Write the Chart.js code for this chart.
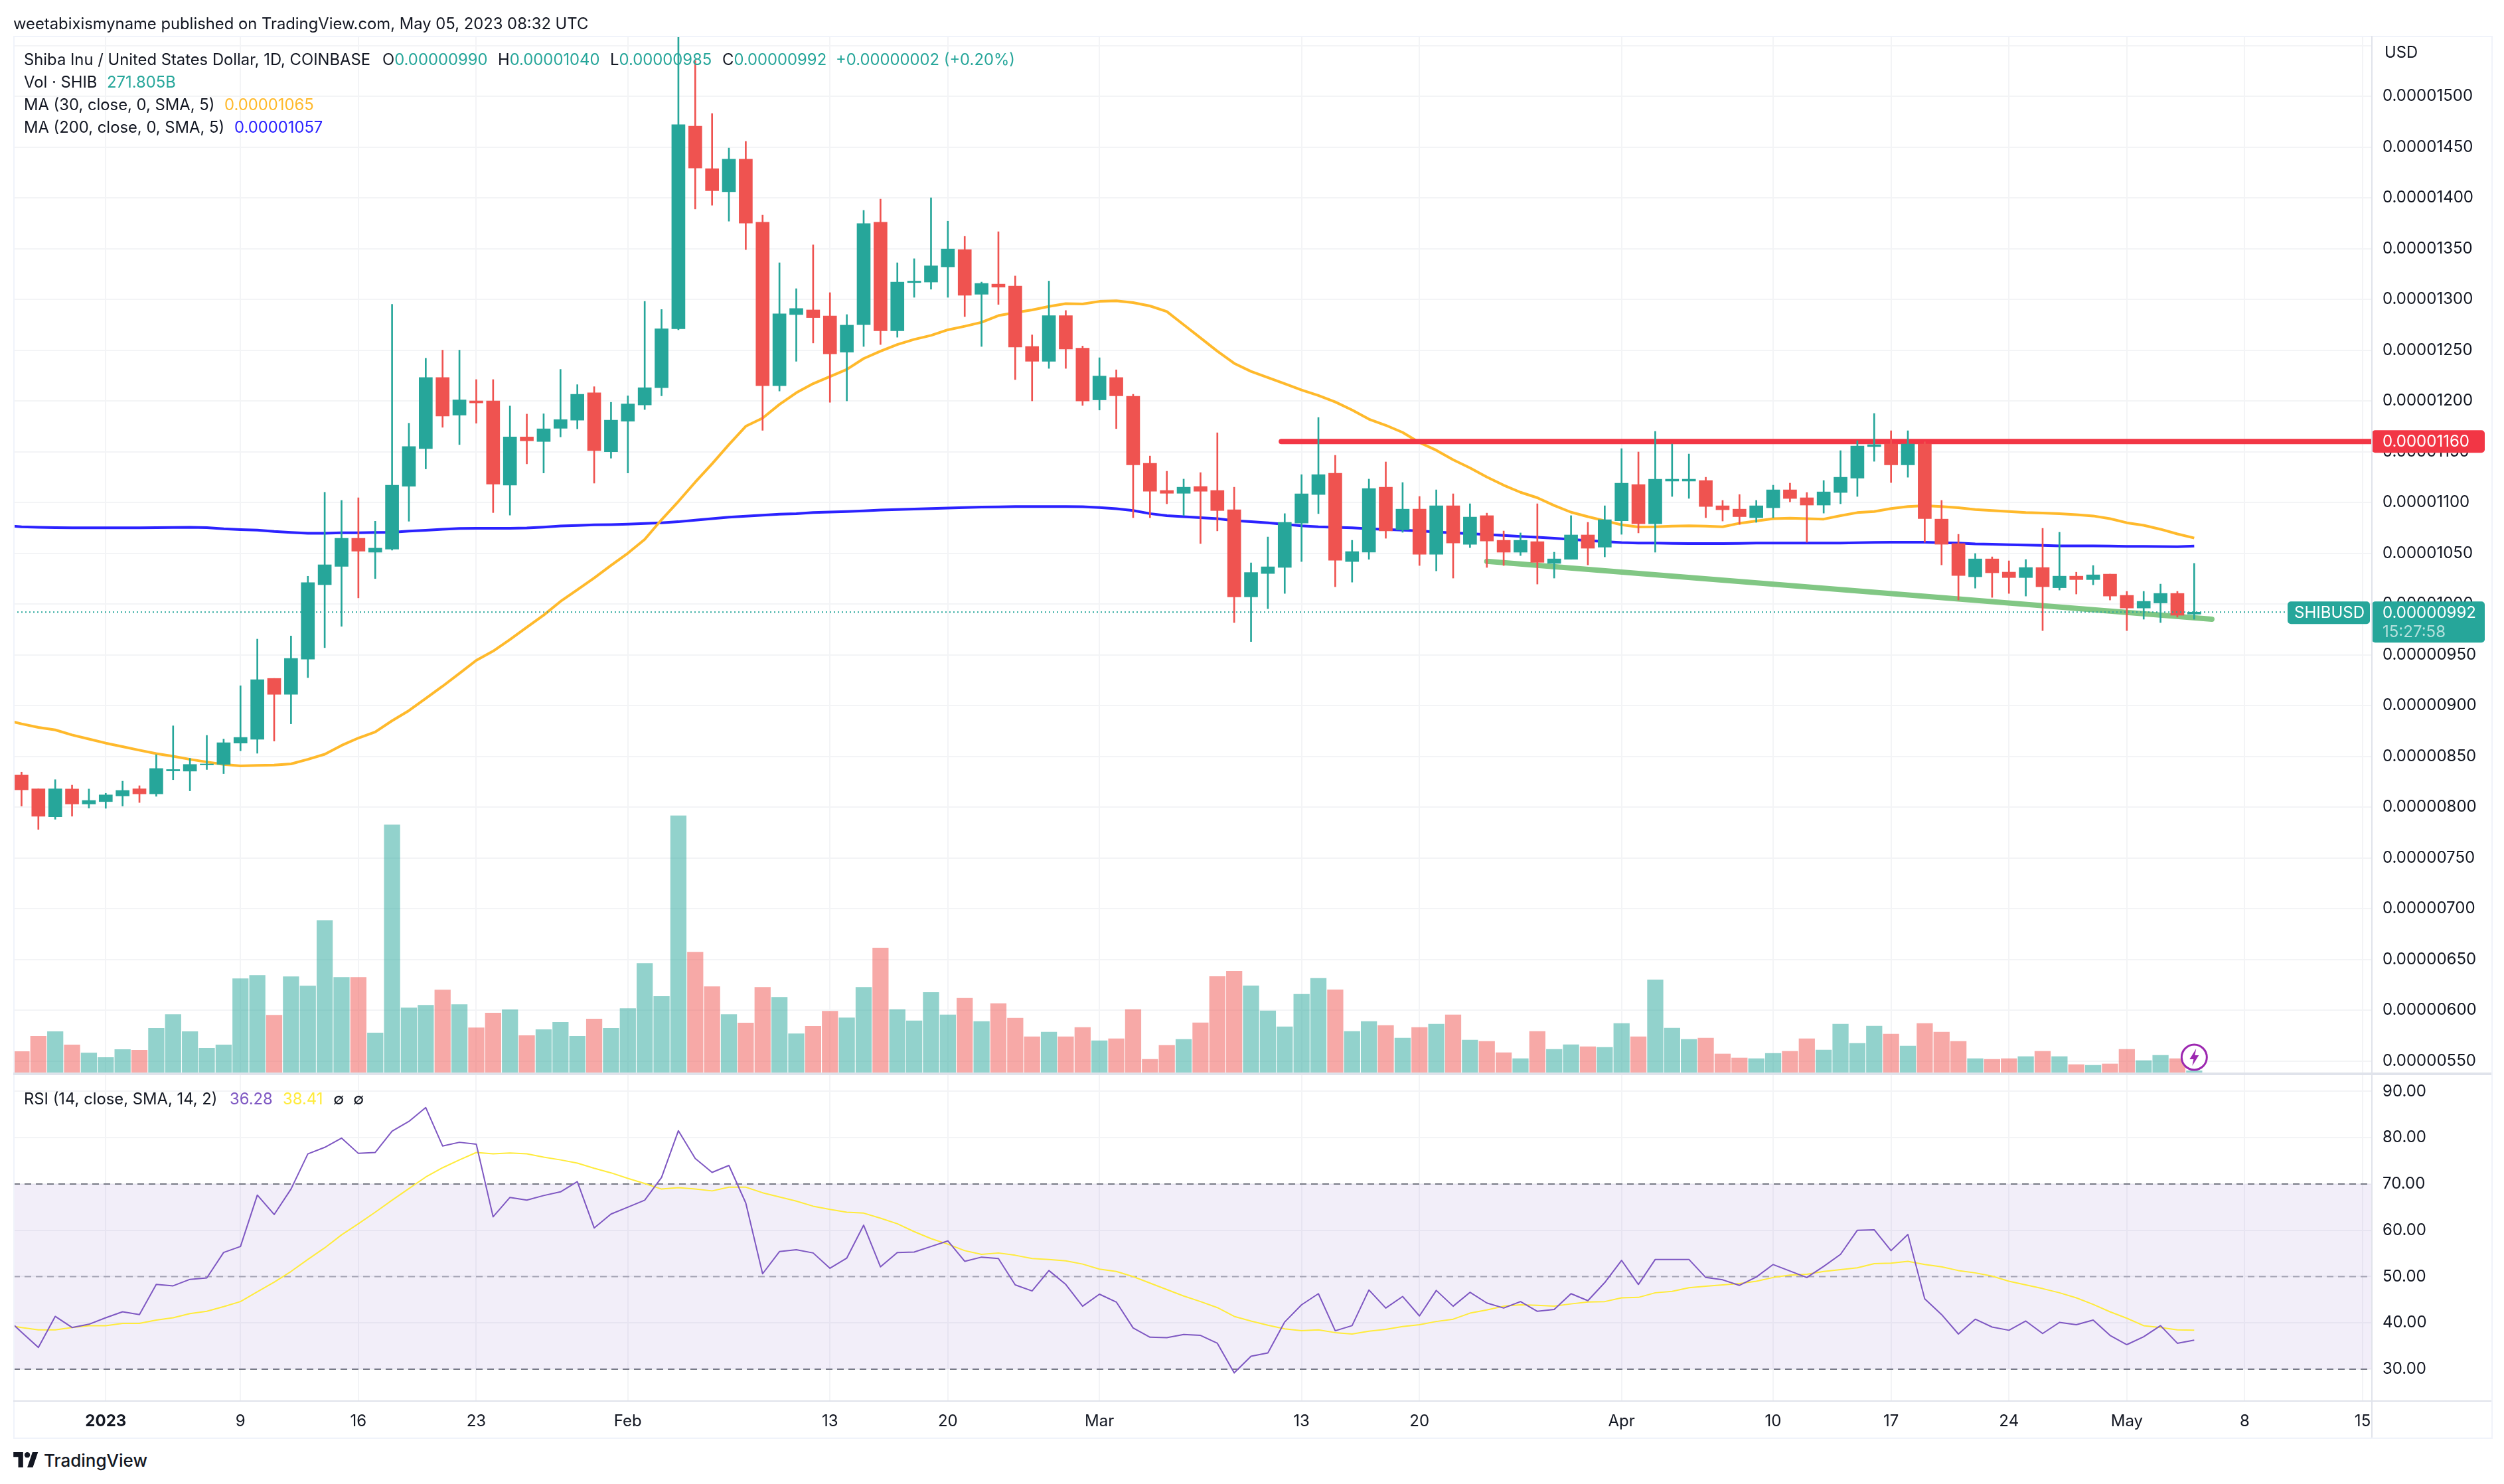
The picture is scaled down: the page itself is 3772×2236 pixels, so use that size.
<!DOCTYPE html>
<html>
<head>
<meta charset="utf-8">
<title>SHIBUSD</title>
<script src="https://cdn.jsdelivr.net/npm/chart.js@4"></script>
<style>
html, body { margin: 0; padding: 0; background: #fff; width: 3772px; height: 2236px; overflow: hidden; }
canvas { position: absolute; left: 0; }
#priceCanvas { top: 0; }
#rsiCanvas { top: 1578px; }
.line { position: absolute; background: #e0e3eb; }
.frame { position: absolute; left: 20px; top: 54px; width: 3731px; height: 2110px; border: 2px solid #f0f3fa; }
.t { position: absolute; white-space: pre; font: 23.8px Inter, sans-serif; line-height: 34px; color: #131722; }
.up { color: #26a69a; }
</style>
</head>
<body>
<canvas id="priceCanvas" width="3772" height="1658"></canvas>
<canvas id="rsiCanvas" width="3772" height="588"></canvas>
<div class="frame"></div>
<div class="line" style="left:20px;top:1616px;width:3733px;height:4px"></div>
<div class="line" style="left:20px;top:2110px;width:3733px;height:2px"></div>
<div class="line" style="left:3572px;top:54px;width:2px;height:2112px"></div>

<div class="t" style="left:20px;top:19px">weetabixismyname published on TradingView.com, May 05, 2023 08:32 UTC</div>
<div class="t" style="left:36px;top:73px">Shiba Inu / United States Dollar, 1D, COINBASE</div>
<div class="t" style="left:576px;top:73px">O<span class="up">0.00000990</span></div>
<div class="t" style="left:750px;top:73px">H<span class="up">0.00001040</span></div>
<div class="t" style="left:919px;top:73px">L<span class="up">0.00000985</span></div>
<div class="t" style="left:1088px;top:73px">C<span class="up">0.00000992</span></div>
<div class="t up" style="left:1259px;top:73px">+0.00000002 (+0.20%)</div>
<div class="t" style="left:36px;top:107px">Vol · SHIB</div>
<div class="t up" style="left:161px;top:107px">271.805B</div>
<div class="t" style="left:36px;top:141px">MA (30, close, 0, SMA, 5)</div>
<div class="t" style="left:338px;top:141px;color:#ffb92b">0.00001065</div>
<div class="t" style="left:36px;top:175px">MA (200, close, 0, SMA, 5)</div>
<div class="t" style="left:353px;top:175px;color:#2b22ff">0.00001057</div>
<div class="t" style="left:3592px;top:62px">USD</div>

<div class="t" style="left:36px;top:1639px">RSI (14, close, SMA, 14, 2)</div>
<div class="t" style="left:346px;top:1639px;color:#7e57c2">36.28</div>
<div class="t" style="left:426px;top:1639px;color:#ffeb3b">38.41</div>
<div class="t" style="left:502px;top:1639px">∅</div>
<div class="t" style="left:532px;top:1639px">∅</div>

<svg style="position:absolute;left:20px;top:2188px" width="38" height="23" viewBox="0 0 36 22">
  <path fill="#131722" d="M14 22H7V7H0V0h14v22zM28 22h-8L27.5 0h8L28 22z"/>
  <circle fill="#131722" cx="20" cy="4" r="4"/>
</svg>
<div class="t" style="left:66px;top:2184px;font-size:26px;font-weight:500">TradingView</div>

<script>
// prices are in units of 0.00000001 USD, first candle is Dec 27 2022
const firstCandleDay = -5; // days from Jan 1 2023

const opens = [
    831.5, 818, 790.5, 817.8, 803, 805.4, 811, 818, 813, 835.6,
    835.4, 841.5, 842, 863, 866.7, 926.7, 911, 945.6, 1019, 1037,
    1064.7, 1051, 1054, 1116, 1153, 1223, 1186, 1200, 1200, 1117,
    1164.5, 1160, 1173, 1181, 1208, 1150, 1180, 1196, 1213, 1271,
    1470.5, 1428.7, 1406, 1438, 1376, 1215, 1285, 1289.6, 1283.6, 1248,
    1275, 1376, 1269, 1316.5, 1317, 1332, 1349, 1305, 1315, 1313,
    1253.6, 1239, 1284, 1252, 1201, 1223, 1204.6, 1138.6, 1111.8, 1109,
    1115.7, 1111.8, 1092.8, 1007, 1030, 1036, 1079.7, 1107.8, 1128.7, 1041.8,
    1051, 1115, 1073, 1093.4, 1049, 1096.7, 1058.8, 1087, 1062.7, 1051,
    1061.4, 1040, 1044, 1068, 1056, 1082, 1117.6, 1079, 1121, 1121,
    1121.6, 1096.7, 1093.4, 1085, 1094.8, 1112.4, 1104.6, 1097.4, 1109.8, 1124,
    1155, 1157.5, 1137, 1157.5, 1083.6, 1059.5, 1026.8, 1044.4, 1031.4, 1026,
    1035.9, 1016, 1027.4, 1024, 1029.4, 1008.5, 996, 1001, 1010.4, 990
];
const closes = [
    817, 791, 818, 803, 806.5, 812, 816.4, 813, 838, 837,
    842, 842.5, 863.4, 868.6, 925.5, 911, 946.4, 1021, 1038.6, 1064.7,
    1052, 1055, 1117, 1155, 1223, 1185, 1201, 1198, 1118, 1164.5,
    1160.7, 1172.5, 1181.6, 1206.5, 1151, 1181, 1197, 1213, 1271, 1472,
    1429.4, 1407, 1438, 1375, 1215, 1285.7, 1291, 1282, 1246.4, 1274.6,
    1374.6, 1269, 1317, 1318, 1333, 1349.6, 1304, 1315.7, 1312, 1253,
    1239, 1284, 1251, 1200, 1224.5, 1205, 1137, 1111, 1109, 1115,
    1111, 1092, 1007, 1031, 1036.6, 1080.4, 1108.5, 1127.4, 1043, 1051.6,
    1113.7, 1071.9, 1093.4, 1049, 1096.7, 1060, 1085.6, 1062, 1051, 1062.7,
    1041, 1044.4, 1068, 1054.9, 1083, 1119, 1079, 1122.9, 1122.9, 1122.9,
    1096, 1092.8, 1086, 1096.7, 1112.4, 1103.9, 1097.4, 1110.4, 1124.8, 1155.5,
    1156.9, 1137, 1157.5, 1084, 1058.8, 1028, 1044.4, 1030.7, 1026, 1035.9,
    1017, 1027.4, 1024, 1028.7, 1007.8, 996, 1002.6, 1010.4, 988.9, 992
];
const highs = [
    834.5, 818, 827, 821.6, 817.8, 813.6, 825.5, 821, 851.6, 880,
    848, 870.6, 867, 919.5, 965.4, 926.7, 968.5, 1027.3, 1110, 1102,
    1104.6, 1081.5, 1295, 1178, 1242, 1250, 1250, 1221, 1221, 1195,
    1187, 1187.3, 1231, 1216, 1214, 1198.6, 1205, 1298, 1290, 1559,
    1535, 1483, 1449, 1455.5, 1383, 1336, 1310.5, 1353.7, 1306.6, 1285,
    1387.6, 1398.7, 1336, 1340, 1400, 1377, 1362, 1317, 1366.6, 1323,
    1265, 1318, 1289, 1254, 1242.5, 1230.6, 1206.5, 1145.7, 1130.7, 1123,
    1129.4, 1168.6, 1115, 1040.5, 1066, 1089, 1127.4, 1183.7, 1146.4, 1062.7,
    1123, 1139.9, 1119.6, 1105.9, 1112.4, 1108.5, 1098.7, 1089.5, 1071.9, 1070,
    1098.7, 1051, 1087, 1080.4, 1096.7, 1153, 1149.7, 1170, 1157.5, 1147.7,
    1124.8, 1102, 1107.8, 1102, 1117, 1119, 1109.8, 1121.6, 1151, 1160.8,
    1187.6, 1170.6, 1170.6, 1159.7, 1102, 1068.6, 1049.7, 1046.4, 1042.5, 1043.8,
    1074.5, 1070.6, 1031.3, 1037.9, 1029.4, 1012.4, 1012.4, 1019.6, 1012.4, 1040
];
const lows = [
    801, 778, 788, 791, 799, 798.8, 801, 804.5, 810.6, 827,
    816, 837, 833, 855.4, 853, 865, 882, 927.5, 957, 978,
    1006, 1025, 1053, 1081.5, 1133, 1174, 1157, 1178, 1090, 1087.5,
    1138, 1129, 1164.5, 1172.5, 1119, 1143.6, 1129, 1191.5, 1205, 1270,
    1389, 1392.7, 1377, 1349, 1171, 1209.7, 1239, 1257, 1198.6, 1200,
    1253.6, 1255.5, 1262.7, 1302, 1310, 1302, 1283, 1253.6, 1295, 1221,
    1200, 1232, 1232, 1195.5, 1191, 1172.7, 1085, 1085, 1098.7, 1087,
    1059.5, 1072, 981.7, 963, 995.4, 1010.4, 1041.8, 1089, 1017, 1021.5,
    1044, 1064.7, 1070.6, 1037.9, 1032.6, 1025.5, 1055.5, 1036, 1037.9, 1047.7,
    1019.6, 1025.5, 1044, 1038.5, 1046.4, 1068.6, 1070, 1051, 1105.9, 1104,
    1085, 1081.7, 1078.4, 1080.4, 1085, 1100.6, 1060.8, 1089.5, 1098.7, 1105.9,
    1140.5, 1119.6, 1124.8, 1060.8, 1038.5, 1003.9, 1015.6, 1006.5, 1010.4, 1007.8,
    973.8, 1013.7, 1009.8, 1018.9, 1003.9, 973.8, 985, 981.7, 987, 985
];
// SHIB volume in billions
const volumes = [
    1950, 3280, 3690, 2530, 1830, 1430, 2120, 2065, 3980, 5190,
    3690, 2240, 2530, 8320, 8610, 5130, 8490, 7680, 13410, 8430,
    8430, 3570, 21750, 5770, 6000, 7330, 6060, 4030, 5310, 5600,
    3340, 3860, 4500, 3280, 4790, 3980, 5710, 9650, 6760, 22560,
    10630, 7620, 5190, 4440, 7570, 6700, 3510, 4150, 5480, 4900,
    7570, 11000, 5620, 4630, 7120, 5150, 6600, 4570, 6140, 4860,
    3240, 3650, 3240, 4050, 2900, 3070, 5620, 1270, 2490, 3010,
    4460, 8510, 8970, 7700, 5500, 4110, 6950, 8340, 7350, 3710,
    4570, 4230, 3130, 4050, 4340, 5150, 2950, 2840, 1850, 1330,
    3710, 2140, 2550, 2370, 2320, 4400, 3240, 8220, 4000, 3010,
    3130, 1740, 1390, 1330, 1790, 1970, 3070, 2080, 4340, 2660,
    4170, 3470, 2430, 4400, 3650, 2840, 1330, 1270, 1330, 1510,
    1970, 1510, 810, 750, 870, 2140, 1160, 1620, 1330, 272
];
// the indicator lines carry one lead-in day before the first candle
const ma30 = [
    886, 882, 878.5, 876, 871, 867, 863, 859.5, 856, 852.7, 850,
    847, 844.4, 842, 840.6, 841, 841.4, 842.5, 847, 852, 860.7,
    868, 874, 885, 895, 907, 919, 931.6, 944.5, 953.6, 965,
    977, 989, 1002.5, 1014, 1025.6, 1038, 1050, 1063.6, 1083, 1101,
    1120, 1138, 1157, 1175, 1183, 1196.5, 1208, 1217, 1224, 1231,
    1241.7, 1249, 1255.5, 1260.6, 1264.5, 1270, 1273.5, 1277.4, 1284, 1287,
    1289.6, 1293, 1295.8, 1295.5, 1298, 1298.6, 1296.8, 1293.5, 1288, 1275,
    1262, 1249, 1237, 1229, 1223, 1217, 1210.7, 1205.4, 1199, 1191,
    1182, 1176, 1169, 1159, 1151.4, 1142, 1134, 1125, 1117, 1110,
    1104.6, 1097, 1090.4, 1086, 1082, 1078, 1075.8, 1076, 1076.7, 1077,
    1076.7, 1076, 1079.5, 1081.7, 1084, 1084.5, 1084, 1083.6, 1087, 1090,
    1091, 1094, 1096, 1096.7, 1096, 1094.8, 1093, 1092, 1091, 1090,
    1089.5, 1088.9, 1088, 1086.7, 1084, 1080, 1077.5, 1073.6, 1069, 1065
];
const ma200 = [
    1077.5, 1076, 1075.5, 1075.2, 1075, 1075, 1075, 1075, 1075, 1075.2, 1075.4,
    1075.6, 1075.2, 1074, 1073.2, 1072.7, 1071.4, 1070.5, 1069.7, 1069.7, 1070.2,
    1070.2, 1070.5, 1070.7, 1071.8, 1072.6, 1073.5, 1074.3, 1074.6, 1074.6, 1074.6,
    1074.9, 1075.7, 1076.8, 1077.3, 1078, 1078.2, 1078.7, 1079.3, 1080, 1081,
    1082.5, 1084, 1085.5, 1086.5, 1087.5, 1088.5, 1089, 1090, 1090.5, 1091,
    1091.7, 1092.5, 1093, 1093.5, 1094, 1094.5, 1095, 1095.5, 1095.7, 1096,
    1096, 1096, 1096, 1095.8, 1095, 1093.8, 1092, 1089, 1087, 1086,
    1085, 1084, 1082, 1081, 1080, 1078.4, 1077, 1076, 1075.6, 1075,
    1074, 1073.4, 1072.7, 1072, 1071, 1070, 1069.3, 1068.4, 1067.5, 1066.6,
    1065.8, 1064.7, 1063.6, 1062.5, 1061.4, 1060.5, 1060, 1060, 1059.7, 1059.5,
    1059.5, 1059.5, 1059.7, 1060, 1060, 1060, 1060, 1060, 1060, 1060.4,
    1060.6, 1060.8, 1060.8, 1060.8, 1060.4, 1060, 1059.2, 1058.8, 1058.4, 1058,
    1057.7, 1057.3, 1057.3, 1057.3, 1057, 1056.8, 1056.8, 1056.6, 1056.4, 1057
];
const rsi = [
    41.4, 38, 34.7, 41.4, 39, 39.7, 41.1, 42.4, 41.8, 48.3, 48,
    49.4, 49.7, 55.2, 56.5, 67.6, 63.4, 68.9, 76.5, 77.9, 79.9,
    76.6, 76.8, 81.4, 83.5, 86.5, 78.2, 79, 78.6, 62.9, 67.1,
    66.5, 67.5, 68.3, 70.5, 60.5, 63.5, 65, 66.5, 71.4, 81.5,
    75.5, 72.5, 74, 65.9, 50.6, 55.4, 55.8, 55.1, 51.8, 54,
    61.1, 52.1, 55.2, 55.3, 56.5, 57.7, 53.3, 54.2, 53.9, 48.2,
    46.9, 51.3, 48.3, 43.6, 46.2, 44.5, 38.9, 36.9, 36.8, 37.5,
    37.3, 35.6, 29.2, 32.8, 33.5, 40.2, 43.9, 46.3, 38.3, 39.4,
    47.1, 43.2, 45.7, 41.5, 47, 43.6, 46.6, 44.3, 43.2, 44.6,
    42.5, 42.9, 46.3, 44.8, 48.7, 53.5, 48.3, 53.7, 53.7, 53.7,
    49.8, 49.3, 48.1, 49.9, 52.6, 51.2, 49.8, 52.2, 54.8, 60,
    60.1, 55.6, 59.1, 45.2, 41.8, 37.6, 40.8, 39.1, 38.4, 40.4,
    37.7, 40.1, 39.6, 40.6, 37.3, 35.3, 37, 39.4, 35.6, 36.28
];
const rsiMa = [
    39.6, 39, 38.5, 38.5, 39, 39.4, 39.4, 39.9, 39.9, 40.6, 41.1,
    42, 42.5, 43.5, 44.6, 46.7, 48.8, 51.1, 53.7, 56.2, 59,
    61.4, 63.9, 66.5, 69, 71.5, 73.5, 75.2, 76.8, 76.5, 76.7,
    76.5, 75.8, 75.2, 74.5, 73.4, 72.4, 71.2, 70.1, 68.9, 69.2,
    68.9, 68.5, 69.3, 69.3, 68.1, 67.2, 66.3, 65.2, 64.5, 63.9,
    63.7, 62.6, 61.4, 59.7, 58.2, 57, 55.6, 54.8, 55.1, 54.6,
    53.9, 53.7, 53.4, 52.7, 51.6, 51.1, 50, 48.6, 47.2, 45.8,
    44.6, 43.3, 41.4, 40.4, 39.5, 38.7, 38.3, 38.5, 37.9, 37.6,
    38.2, 38.6, 39.2, 39.6, 40.3, 40.8, 42.1, 42.8, 43.6, 43.9,
    43.8, 43.6, 44.1, 44.5, 44.6, 45.4, 45.5, 46.5, 46.8, 47.6,
    47.9, 48.2, 48.5, 49, 49.8, 50.3, 50.5, 51.1, 51.5, 51.9,
    52.8, 52.9, 53.3, 52.6, 52.1, 51.3, 50.8, 50.1, 49, 48.2,
    47.4, 46.5, 45.4, 44, 42.4, 41, 39.4, 39, 38.5, 38.41
];

const timeTickDays = [0, 8, 15, 22, 31, 43, 50, 59, 71, 78, 90, 99, 106, 113, 120, 127, 134];
const timeTickLabels = ['2023', '9', '16', '23', 'Feb', '13', '20', 'Mar', '13', '20', 'Apr', '10', '17', '24', 'May', '8', '15'];
const priceTicks = [550, 600, 650, 700, 750, 800, 850, 900, 950, 1000, 1050, 1100, 1150, 1200, 1250, 1300, 1350, 1400, 1450, 1500, 1550];
const rsiTicks = [30, 40, 50, 60, 70, 80, 90];

// drawn trend lines
const resistancePrice = 1160;
const resistanceDays = [69.8, 134.6];
const supportDays = [82, 125.05];
const supportPrices = [1042, 985];

const xMin = -5.49, xMax = 134.55;
const UP = '#26a69a', DOWN = '#ef5350';
const GRID = '#f3f4f6';
const FONT = 'Inter, sans-serif';

const candleDays = opens.map((o, i) => firstCandleDay + i);
const isUp = opens.map((o, i) => closes[i] >= o);
const candleColors = isUp.map(u => u ? UP : DOWN);
const volumeColors = isUp.map(u => u ? 'rgba(38,166,154,0.5)' : 'rgba(239,83,80,0.5)');
const lineSeries = values => values.map((y, i) => ({ x: firstCandleDay - 1 + i, y: y }));
const lastClose = closes[closes.length - 1];

function fixedTicks(list) {
    return scale => { scale.ticks = list.map(value => ({ value })); };
}

function lineSet(data, color, width, order, yAxisID) {
    return {
        type: 'line', data, borderColor: color, borderWidth: width, order,
        pointRadius: 0, tension: 0, fill: false, yAxisID: yAxisID || 'y',
        borderJoinStyle: 'round'
    };
}

function timeScale(showLabels) {
    return {
        type: 'linear', min: xMin, max: xMax, bounds: 'data', offset: false,
        afterBuildTicks: fixedTicks(timeTickDays),
        grid: { color: GRID, lineWidth: 2, drawTicks: false, offset: false },
        border: { display: false },
        afterFit: scale => { scale.height = showLabels ? 55 : 0; },
        ticks: {
            display: showLabels, autoSkip: false, maxRotation: 0, padding: 16, color: '#131722',
            font: ctx => ({ family: FONT, size: 24, weight: ctx.tick && ctx.tick.value === 0 ? 'bold' : 'normal' }),
            callback: value => timeTickLabels[timeTickDays.indexOf(value)]
        }
    };
}

function valueScale(min, max, list, format) {
    return {
        position: 'right', min, max, bounds: 'data',
        afterBuildTicks: fixedTicks(list),
        afterFit: scale => { scale.width = 180; },
        grid: { color: GRID, lineWidth: 2, drawTicks: false },
        border: { display: false },
        ticks: {
            autoSkip: false, color: '#131722', crossAlign: 'near', padding: 16,
            font: { family: FONT, size: 24 }, callback: format
        }
    };
}

function tag(ctx, x, y, w, h, color) {
    ctx.fillStyle = color;
    ctx.beginPath();
    ctx.roundRect(x, y, w, h, 5);
    ctx.fill();
}

const priceTags = {
    id: 'priceTags',
    afterDraw(chart) {
        const { ctx, chartArea, scales } = chart;
        const textX = chartArea.right + 16;
        ctx.save();
        ctx.font = '24px ' + FONT;
        ctx.textBaseline = 'middle';
        ctx.textAlign = 'left';

        const redY = scales.y.getPixelForValue(resistancePrice);
        tag(ctx, chartArea.right, redY - 17, 170, 34, '#f23645');
        ctx.fillStyle = '#fff';
        ctx.fillText((resistancePrice * 1e-8).toFixed(8), textX, redY + 1);

        const lastY = scales.y.getPixelForValue(lastClose);
        tag(ctx, chartArea.right - 127, lastY - 16, 124, 34, UP);
        tag(ctx, chartArea.right, lastY - 16, 170, 62, UP);
        ctx.fillStyle = '#fff';
        ctx.fillText('SHIBUSD', chartArea.right - 117, lastY + 1);
        ctx.fillText((lastClose * 1e-8).toFixed(8), textX, lastY + 1);
        ctx.fillStyle = 'rgba(255,255,255,0.65)';
        ctx.fillText('15:27:58', textX, lastY + 30);

        // lightning badge on the last candle
        const bx = scales.x.getPixelForValue(candleDays[candleDays.length - 1]);
        const by = chartArea.bottom - 25;
        ctx.beginPath();
        ctx.arc(bx, by, 19, 0, Math.PI * 2);
        ctx.fillStyle = '#fff';
        ctx.fill();
        ctx.lineWidth = 3;
        ctx.strokeStyle = '#9c27b0';
        ctx.stroke();
        ctx.beginPath();
        ctx.moveTo(bx + 3, by - 13);
        ctx.lineTo(bx - 7, by + 3);
        ctx.lineTo(bx - 1, by + 3);
        ctx.lineTo(bx - 3, by + 13);
        ctx.lineTo(bx + 7, by - 3);
        ctx.lineTo(bx + 1, by - 3);
        ctx.closePath();
        ctx.fillStyle = '#9c27b0';
        ctx.fill();
        ctx.restore();
    }
};

new Chart(document.getElementById('priceCanvas').getContext('2d'), {
    type: 'bar',
    data: {
        datasets: [
            {
                data: candleDays.map((x, i) => ({ x, y: volumes[i] })),
                yAxisID: 'yVol', backgroundColor: volumeColors, barThickness: 23.6, order: 10
            },
            lineSet(lineSeries(ma200), '#2b22ff', 4, 8),
            lineSet(lineSeries(ma30), '#ffb92b', 4, 7),
            Object.assign(lineSet(supportDays.map((x, i) => ({ x, y: supportPrices[i] })), '#81c784', 8, 6), { borderCapStyle: 'round' }),
            Object.assign(lineSet(resistanceDays.map(x => ({ x, y: resistancePrice })), '#f23645', 8, 5), { borderCapStyle: 'round' }),
            {
                data: candleDays.map((x, i) => ({ x, y: [lows[i], highs[i]] })),
                backgroundColor: candleColors, barThickness: 2, order: 4
            },
            {
                data: candleDays.map((x, i) => ({ x, y: [opens[i], closes[i]] })),
                backgroundColor: candleColors, barThickness: 20, order: 3
            },
            Object.assign(lineSet([{ x: xMin, y: lastClose }, { x: xMax, y: lastClose }], UP, 2, 2), { borderDash: [2, 4] })
        ]
    },
    options: {
        responsive: false, animation: false, devicePixelRatio: 1,
        datasets: { bar: { grouped: false, borderSkipped: false } },
        // the extra 40px below keeps the y scale's label padding out of the plot height
        layout: { autoPadding: false, padding: { left: 20, top: 54, right: 19, bottom: 40 } },
        plugins: { legend: { display: false }, tooltip: { enabled: false } },
        scales: {
            x: timeScale(false),
            y: valueScale(537.3, 1559.5, priceTicks, v => v === 1550 ? '' : (v * 1e-8).toFixed(8)),
            yVol: { display: false, position: 'right', min: 0, max: 90700 }
        }
    },
    plugins: [priceTags]
});

new Chart(document.getElementById('rsiCanvas').getContext('2d'), {
    type: 'line',
    data: {
        datasets: [
            Object.assign(lineSet([{ x: xMin, y: 70 }, { x: xMax, y: 70 }], '#787b86', 2, 5), { borderDash: [10, 7], fill: '+1', backgroundColor: 'rgba(126,87,194,0.1)' }),
            Object.assign(lineSet([{ x: xMin, y: 30 }, { x: xMax, y: 30 }], '#787b86', 2, 5), { borderDash: [10, 7] }),
            Object.assign(lineSet([{ x: xMin, y: 50 }, { x: xMax, y: 50 }], 'rgba(120,123,134,0.6)', 2, 5), { borderDash: [10, 7] }),
            lineSet(lineSeries(rsiMa), '#ffeb3b', 2, 3),
            lineSet(lineSeries(rsi), '#7e57c2', 2, 2)
        ]
    },
    options: {
        responsive: false, animation: false, devicePixelRatio: 1,
        layout: { autoPadding: false, padding: { left: 20, top: 40, right: 19, bottom: 0 } },
        plugins: { legend: { display: false }, tooltip: { enabled: false } },
        scales: {
            x: timeScale(true),
            y: valueScale(23.12, 93.78, rsiTicks, v => v.toFixed(2))
        }
    }
});
</script>
</body>
</html>
